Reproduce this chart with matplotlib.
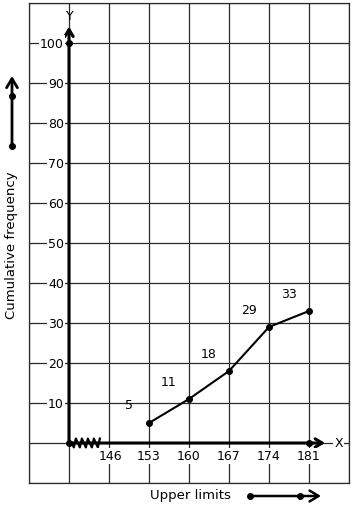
import numpy as np
import matplotlib
matplotlib.use("Agg")
import matplotlib.pyplot as plt
from matplotlib.patches import FancyArrowPatch
from matplotlib.lines import Line2D

# upper class limits and cumulative frequencies
upper_limits = [153, 160, 167, 174, 181]
cum_freq = [5, 11, 18, 29, 33]
x_ticks = [146, 153, 160, 167, 174, 181]
y_ticks = [10, 20, 30, 40, 50, 60, 70, 80, 90, 100]

x0 = 139  # where the y axis crosses

fig = plt.figure(figsize=(3.54, 5.10), dpi=100)
ax = fig.add_axes([29 / 354, 26 / 510, 320 / 354, 480 / 510])
ax.set_xlim(132, 188)
ax.set_ylim(-10, 110)

# graph paper grid
ax.set_xticks(np.arange(132, 189, 7))
ax.set_yticks(np.arange(-10, 111, 10))
ax.grid(True, color="#2a2a2a", lw=0.9)
ax.tick_params(length=0, labelbottom=False, labelleft=False)
for s in ax.spines.values():
    s.set_color("#2a2a2a")
    s.set_linewidth(0.9)

white = dict(facecolor="white", edgecolor="none", pad=1)
head = "->,head_length=0.5,head_width=0.3"

# axes lines with arrows
ax.annotate("", xy=(x0, 104.8), xytext=(x0, 0),
            arrowprops=dict(arrowstyle=head, lw=2.2, color="black"))
ax.annotate("", xy=(184.3, 0), xytext=(x0, 0),
            arrowprops=dict(arrowstyle=head, lw=2.2, color="black"))
ax.text(x0 + 0.2, 107.0, "Y", ha="center", va="center", fontsize=9, zorder=5)
ax.text(186.2, 0, "X", ha="center", va="center", fontsize=9, bbox=white)
ax.plot([x0, x0, 181], [0, 100, 0], "o", color="black", ms=4)

# zigzag break on the x axis
zx = np.linspace(139.5, 144.4, 15)
zy = np.array([0, -1.1, 1.1] * 5)[:15]
ax.plot(zx, zy, color="black", lw=1.6)

# tick labels
for v in y_ticks:
    ax.annotate(str(v), xy=(x0, v), xytext=(-5, 0), textcoords="offset pixels",
                ha="right", va="center", fontsize=9, bbox=white)
for v in x_ticks:
    ax.annotate(str(v), xy=(v, 0), xytext=(1 if v == 146 else 0, -13), textcoords="offset pixels",
                ha="center", va="center", fontsize=9, bbox=white)

# ogive
ax.plot(upper_limits, cum_freq, "o-", color="black", lw=1.5, ms=4)
for xv, yv in zip(upper_limits, cum_freq):
    ax.annotate(str(yv), xy=(xv, yv), xytext=(-20, 18), textcoords="offset pixels",
                ha="center", va="center", fontsize=9)

# outside labels with arrows
fig.text(12 / 354, 1 - 245 / 510, "Cumulative frequency", rotation=90,
         ha="center", va="center", fontsize=9.5)
fig.add_artist(FancyArrowPatch(
    (12 / 354, 1 - 147 / 510), (12 / 354, 1 - 77 / 510), transform=fig.transFigure,
    arrowstyle=head, mutation_scale=13, lw=2, color="black", shrinkA=0, shrinkB=0))
fig.add_artist(Line2D([12 / 354, 12 / 354], [1 - 147 / 510, 1 - 97 / 510],
                      transform=fig.transFigure, ls="", marker="o", ms=4, color="black"))

fig.text(190 / 354, 1 - 496 / 510, "Upper limits", ha="center", va="center", fontsize=9.5)
fig.add_artist(FancyArrowPatch(
    (250 / 354, 1 - 497 / 510), (321 / 354, 1 - 497 / 510), transform=fig.transFigure,
    arrowstyle=head, mutation_scale=13, lw=1.8, color="black", shrinkA=0, shrinkB=0))
fig.add_artist(Line2D([250 / 354, 300 / 354], [1 - 497 / 510, 1 - 497 / 510],
                      transform=fig.transFigure, ls="", marker="o", ms=4, color="black"))

plt.savefig("out.png", dpi=100)
